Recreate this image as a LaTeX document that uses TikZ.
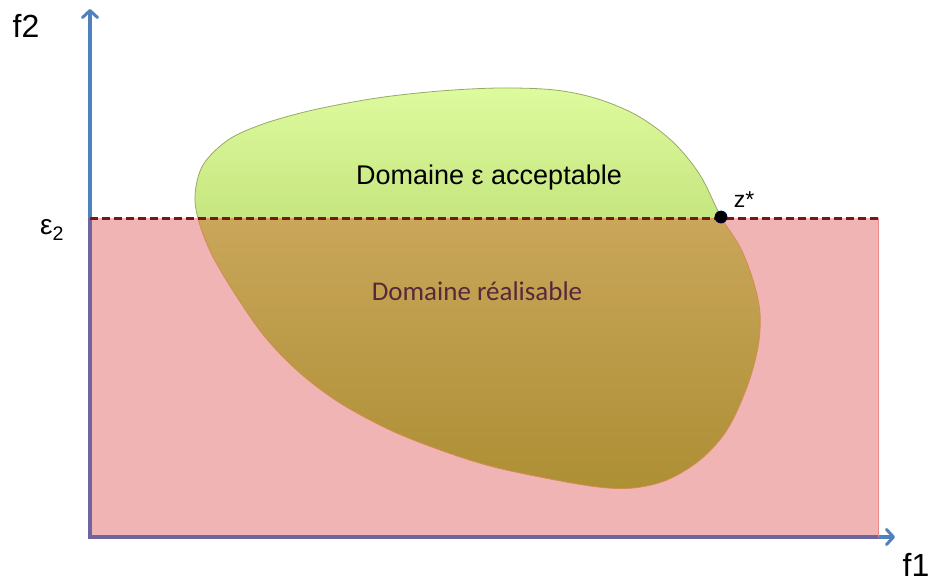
\documentclass[tikz,border=0pt]{standalone}
\usepackage{fontspec}
\setmainfont{Liberation Sans}
\newfontfamily\calib{Carlito}
\usetikzlibrary{arrows.meta}
\definecolor{axisblue}{RGB}{79,129,189}
\definecolor{pinkfill}{RGB}{240,180,180}
\definecolor{pinkedge}{RGB}{232,138,138}
\definecolor{greentop}{RGB}{222,251,158}
\definecolor{greenbot}{RGB}{198,230,128}
\definecolor{browntop}{RGB}{201,166,90}
\definecolor{brownbot}{RGB}{173,143,52}
\definecolor{dashred}{RGB}{122,22,22}
\definecolor{textpurple}{RGB}{88,40,58}
\definecolor{greenedge}{RGB}{150,170,100}
\definecolor{brownedge}{RGB}{212,140,80}
\definecolor{axispurple}{RGB}{110,100,160}
\begin{document}
\begin{tikzpicture}[x=1pt,y=-1pt,
  axisline/.style={draw=axisblue,line width=3.2pt,-{Straight Barb[length=7pt,width=15pt,line width=3pt,round]}},
  blob/.style={insert path={plot[smooth cycle,tension=0.55] coordinates {
    (195,195) (203,165) (228,140) (263,124) (313,110) (377,98)
    (440,91) (500,88) (555,90) (598,99) (638,116) (673,142) (700,175)
    (721,217) (740,247) (753,280) (760,313) (758,347) (747,387) (727,430)
    (700,460) (667,480) (633,488) (598,487) (545,478) (490,466) (440,450)
    (390,430) (340,403) (300,373) (265,337) (235,294) (212,255)
    (199,222)}}},
  lbl/.style={inner sep=0pt,anchor=center}]
\useasboundingbox (0,0) rectangle (933,582);
% coordinates
\coordinate (O) at (90,537);
\coordinate (ytip) at (90,9);
\coordinate (xtip) at (895,537);
\coordinate (dl) at (90,218);
\coordinate (dr) at (878,218);
% axes
\draw[axisline] (O) -- (ytip);
\draw[axisline] (O) -- (xtip);
% pink rectangle
\fill[pinkfill] (90,218) rectangle (878,537);
\draw[pinkedge,line width=0.8pt] (878,218) -- (878,537);
\draw[axispurple,line width=3.2pt] (90,218) -- (90,537) -- (878,537);
% blob
\begin{scope}
  \clip[blob];
  \shade[top color=greentop,bottom color=greenbot] (180,85) rectangle (780,218);
  \shade[top color=browntop,bottom color=brownbot] (180,218) rectangle (780,490);
\end{scope}
\begin{scope}
  \clip (0,0) rectangle (933,218);
  \draw[greenedge,line width=0.8pt,blob];
\end{scope}
\begin{scope}
  \clip (0,218) rectangle (933,582);
  \draw[brownedge,line width=0.8pt,blob];
\end{scope}
% dashed line
\draw[dashred,line width=3pt,dash pattern=on 8pt off 4pt] (dl) -- (dr);
% point z*
\node[circle,fill=black,draw=black!70!blue,line width=0.8pt,minimum size=12pt,inner sep=0pt] (z) at (721,217) {};
% labels
\node[lbl,font=\fontsize{32}{36}\selectfont] (f2) at (26,26) {f2};
\node[lbl,font=\fontsize{32}{36}\selectfont] (f1) at (916,565) {f1};
\node[lbl,font=\fontsize{28}{32}\selectfont] (eps) at (52,230) {ε\textsubscript{2}};
\node[lbl,font=\fontsize{23}{26}\selectfont] (zs) at (744,200) {z*};
\node[lbl,font=\fontsize{27}{30}\selectfont] (acc) at (489,178) {Domaine ε acceptable};
\node[lbl,font=\calib\fontsize{27}{30}\selectfont,text=textpurple] (real) at (477,291) {Domaine réalisable};
\end{tikzpicture}
\end{document}
